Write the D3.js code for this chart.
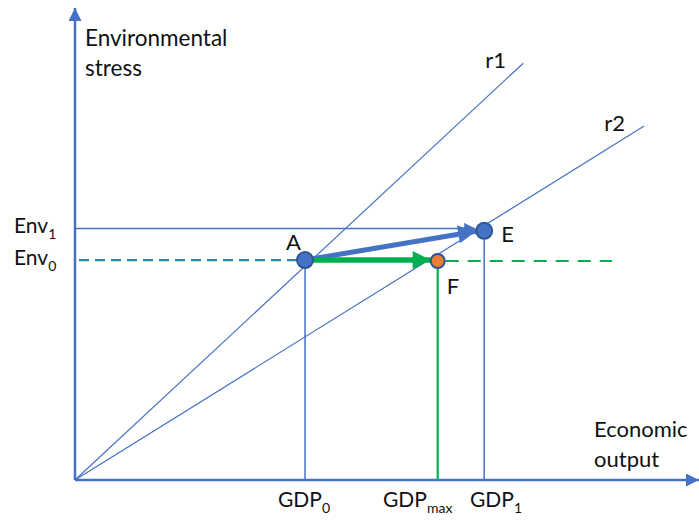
<!DOCTYPE html>
<html><head><meta charset="utf-8">
<script src="https://cdn.jsdelivr.net/npm/d3@7"></script>
<style>body{margin:0;background:#fff}svg{display:block}text{font-family:Lato,"Open Sans",sans-serif;fill:#111}</style>
</head><body>
<svg id="c" width="699" height="521"></svg>
<script>
// Conceptual values (0-100 scale on each axis)
const gdpLabels = [{k:"GDP",s:"0"},{k:"GDP",s:"max"},{k:"GDP",s:"1"}];
const gdpValues = [37.1, 58.5, 66.0];
const envLabels = [{k:"Env",s:"1"},{k:"Env",s:"0"}];
const envValues = [53.3, 46.6];
const rays = ["r1","r2"];
const rayEnds = [[72.3, 88.3],[91.8, 75.0]];
const pointNames = ["A","E","F"];
const pointX = [37.1, 66.0, 58.5];
const pointY = [46.6, 52.8, 46.4];

const blue="#4472C4", green="#00B050", dark="#2F5597", orange="#ED7D31";
const svg=d3.select("#c");
const x=d3.scaleLinear().domain([0,100]).range([75,695]);
const y=d3.scaleLinear().domain([0,100]).range([480,8]);

const defs=svg.append("defs");
function marker(id,color,w,h){
  defs.append("marker").attr("id",id).attr("viewBox","0 0 10 10").attr("refX",10).attr("refY",5)
   .attr("markerWidth",w).attr("markerHeight",h).attr("markerUnits","userSpaceOnUse").attr("orient","auto")
   .append("path").attr("d","M0,0L10,5L0,10Z").attr("fill",color);
}
marker("ax",blue,14,13);
marker("ab",blue,16,11);
marker("abig",blue,26,18);
marker("ag",green,26,18);

// axes
svg.append("line").attr("x1",x(0)).attr("y1",y(0)).attr("x2",x(0)).attr("y2",y(100))
  .attr("stroke",blue).attr("stroke-width",2.5).attr("marker-end","url(#ax)");
svg.append("line").attr("x1",x(0)).attr("y1",y(0)).attr("x2",x(100)+4).attr("y2",y(0))
  .attr("stroke",blue).attr("stroke-width",2.5).attr("marker-end","url(#ax)");

// rays
svg.selectAll(".ray").data(rayEnds).join("line")
  .attr("x1",x(0)).attr("y1",y(0)).attr("x2",d=>x(d[0])).attr("y2",d=>y(d[1]))
  .attr("stroke",blue).attr("stroke-width",1.2);
svg.selectAll(".rl").data(rays).join("text")
  .attr("x",(d,i)=>x(rayEnds[i][0])-(i?40:38)).attr("y",(d,i)=>y(rayEnds[i][1])+5)
  .attr("font-size",22).text(d=>d);

// Env1 line with arrow
svg.append("line").attr("x1",x(0)).attr("y1",y(envValues[0])).attr("x2",x(pointX[1])-9).attr("y2",y(envValues[0]))
  .attr("stroke",blue).attr("stroke-width",1.5).attr("marker-end","url(#ab)");
// Env0 dashed
svg.append("line").attr("x1",x(0)+4).attr("y1",y(envValues[1])).attr("x2",x(pointX[0])).attr("y2",y(envValues[1]))
  .attr("stroke",green).attr("stroke-width",2.2).attr("stroke-dasharray","10,6");
svg.append("line").attr("x1",x(0)+4).attr("y1",y(envValues[1])).attr("x2",x(pointX[0])).attr("y2",y(envValues[1]))
  .attr("stroke",blue).attr("stroke-width",2).attr("opacity",0.75).attr("stroke-dasharray","10,6");
// green dashed beyond F
svg.append("line").attr("x1",x(pointX[2])+8).attr("y1",y(pointY[2])).attr("x2",612).attr("y2",y(pointY[2]))
  .attr("stroke",green).attr("stroke-width",2.2).attr("stroke-dasharray","13,9");

// vertical drop lines
const dropY=[pointY[0],pointY[2],pointY[1]];
svg.selectAll(".vd").data(gdpValues).join("line")
  .attr("x1",d=>x(d)).attr("x2",d=>x(d)).attr("y1",(d,i)=>y(dropY[i])).attr("y2",y(0))
  .attr("stroke",(d,i)=>i===1?green:blue).attr("stroke-width",(d,i)=>i===1?2.2:1.5);

// thick arrows
svg.append("line").attr("x1",x(pointX[0])).attr("y1",y(pointY[0])).attr("x2",x(pointX[1])-8).attr("y2",y(pointY[1])+0.5)
  .attr("stroke",blue).attr("stroke-width",5).attr("marker-end","url(#abig)");
svg.append("line").attr("x1",x(pointX[0])).attr("y1",y(pointY[0])).attr("x2",x(pointX[2])-7).attr("y2",y(pointY[0]))
  .attr("stroke",green).attr("stroke-width",5.5).attr("marker-end","url(#ag)");

// points
svg.selectAll(".pt").data(pointNames).join("circle")
  .attr("cx",(d,i)=>x(pointX[i])).attr("cy",(d,i)=>y(pointY[i]))
  .attr("r",(d,i)=>i===2?7:8)
  .attr("fill",(d,i)=>i===2?orange:blue).attr("stroke",dark).attr("stroke-width",2);
const pOff=[[-19,-10],[17,11],[9,33]];
svg.selectAll(".pl").data(pointNames).join("text")
  .attr("x",(d,i)=>x(pointX[i])+pOff[i][0]).attr("y",(d,i)=>y(pointY[i])+pOff[i][1])
  .attr("font-size",22).text(d=>d);

// axis titles
svg.append("text").attr("x",85).attr("y",46).attr("font-size",22.5).text("Environmental");
svg.append("text").attr("x",85).attr("y",76).attr("font-size",22.5).text("stress");
svg.append("text").attr("x",594).attr("y",437).attr("font-size",22).text("Economic");
svg.append("text").attr("x",594).attr("y",467).attr("font-size",22).text("output");

// GDP labels
const gdpAnchorX=[278,383,470];
svg.selectAll(".gl").data(gdpLabels).join("text")
  .attr("x",(d,i)=>gdpAnchorX[i]).attr("y",507).attr("font-size",21)
  .each(function(d){const t=d3.select(this);t.append("tspan").text(d.k);
    t.append("tspan").attr("font-size",14).attr("dy",6).text(d.s);});
// Env labels
svg.selectAll(".el").data(envLabels).join("text")
  .attr("x",14).attr("y",(d,i)=>y(envValues[i])+5).attr("font-size",21)
  .each(function(d){const t=d3.select(this);t.append("tspan").text(d.k);
    t.append("tspan").attr("font-size",14).attr("dy",6).text(d.s);});
</script>
</body></html>
